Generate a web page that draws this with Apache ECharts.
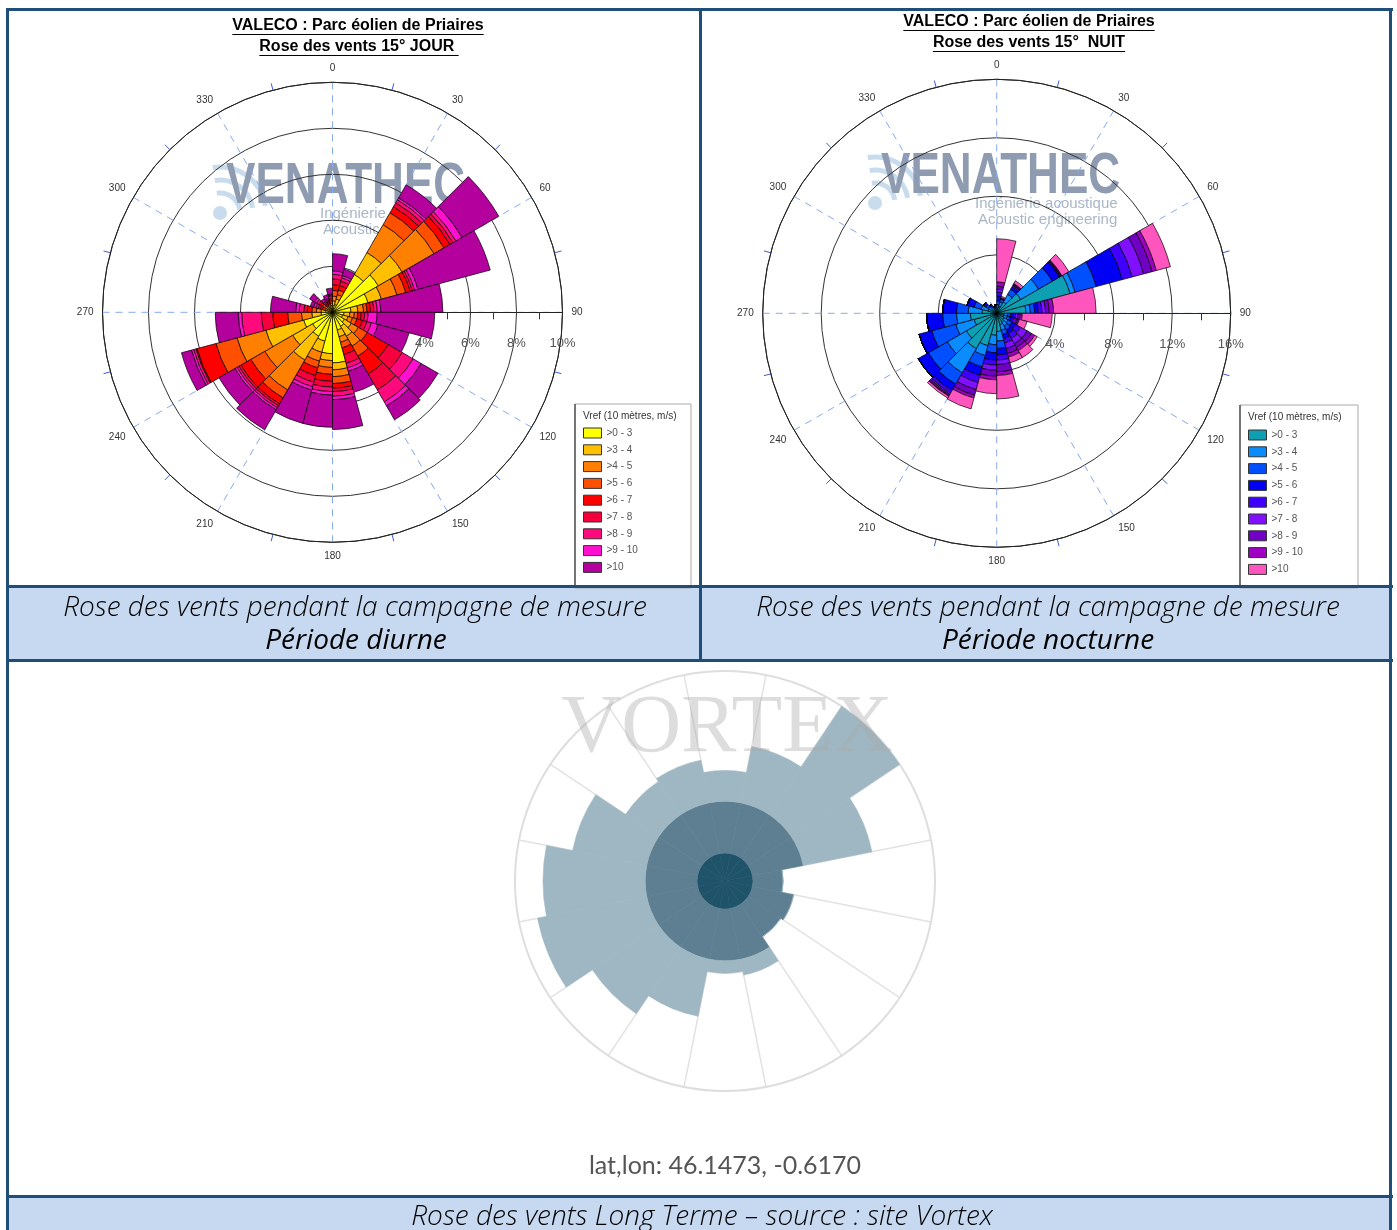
<!DOCTYPE html>
<html>
<head>
<meta charset="utf-8">
<title>Roses des vents - Parc éolien de Priaires</title>
<script src="https://cdn.jsdelivr.net/npm/echarts@6/dist/echarts.min.js"></script>
<style>
  html, body { margin: 0; padding: 0; background: #fff; }
  #chart { width: 1397px; height: 1230px; }
</style>
</head>
<body>
<div id="chart"></div>
<script>
// secteurs de 15° : le secteur k couvre [15k ; 15k+15[
const sectors15 = ['0', '15', '30', '45', '60', '75', '90', '105', '120', '135', '150', '165',
  '180', '195', '210', '225', '240', '255', '270', '285', '300', '315', '330', '345']
const angleTicks = ['0', '30', '60', '90', '120', '150', '180', '210', '240', '270', '300', '330']
const classLabels = ['>0 - 3', '>3 - 4', '>4 - 5', '>5 - 6', '>6 - 7', '>7 - 8', '>8 - 9', '>9 - 10', '>10']

// JOUR : fréquence (%) par classe de vitesse et par secteur
const jour0_3  = [0.3, 0.35, 1.9, 2.3, 1.6, 0.8, 0.5, 0.45, 0.6, 0.7, 0.8, 2.2, 1.8, 1.3, 1.2, 1.0, 1.3, 0.5, 0.3, 0.15, 0.2, 0.1, 0.15, 0.15]
const jour3_4  = [0.2, 0.25, 1.1, 1.2, 0.6, 0.3, 0.25, 0.25, 0.35, 0.5, 0.3, 0.3, 0.3, 0.5, 1.2, 1.0, 1.7, 0.4, 0.2, 0.1, 0.1, 0.1, 0.1, 0.15]
const jour4_5  = [0.2, 0.2, 1.4, 1.6, 0.7, 0.25, 0.2, 0.2, 0.35, 0.5, 0.25, 0.3, 0.3, 0.4, 1.5, 1.4, 1.3, 0.45, 0.2, 0.1, 0.1, 0.1, 0.1, 0.1]
const jour5_6  = [0.25, 0.2, 0.6, 0.5, 0.4, 0.15, 0.15, 0.2, 0.45, 0.5, 0.25, 0.3, 0.3, 0.3, 0.4, 0.7, 0.95, 0.6, 0.2, 0.1, 0.1, 0.05, 0.05, 0.1]
const jour6_7  = [0.25, 0.2, 0.3, 0.3, 0.2, 0.15, 0.15, 0.25, 1.05, 0.9, 0.3, 0.2, 0.3, 0.35, 0.3, 0.5, 0.85, 0.65, 0.2, 0.1, 0.1, 0.05, 0.05, 0.1]
const jour7_8  = [0.25, 0.2, 0.2, 0.15, 0.1, 0.15, 0.15, 0.2, 0.7, 0.8, 0.4, 0.15, 0.25, 0.3, 0.1, 0.1, 0.05, 0.5, 0.15, 0.1, 0.1, 0.05, 0.05, 0.1]
const jour8_9  = [0.2, 0.15, 0.15, 0.15, 0.1, 0.15, 0.15, 0.2, 0.55, 0.6, 0.2, 0.2, 0.2, 0.2, 0.1, 0.1, 0.1, 0.85, 0.2, 0.1, 0.1, 0.05, 0.05, 0.05]
const jour9_10 = [0.15, 0.1, 0.1, 0.3, 0.15, 0.15, 0.4, 0.3, 0.4, 0.2, 0.15, 0.15, 0.15, 0.15, 0.1, 0.1, 0.1, 0.15, 0.15, 0.1, 0.1, 0.05, 0.05, 0.05]
const jour10   = [0.75, 0.3, 0.65, 1.85, 3.25, 2.7, 2.5, 1.4, 0.85, 0.7, 0.95, 1.3, 1.4, 1.5, 1.0, 0.8, 0.45, 1.0, 1.1, 0.15, 0.25, 0.15, 0.2, 0.25]

// NUIT
const nuit0_3  = [0.35, 0.5, 0.9, 1.9, 5.2, 2.0, 0.5, 0.5, 0.6, 0.7, 0.8, 1.25, 1.5, 2.3, 2.8, 2.4, 1.6, 1.8, 1.0, 0.6, 0.4, 0.3, 0.2, 0.25]
const nuit3_4  = [0.25, 0.3, 0.6, 1.4, 0.35, 0.3, 0.25, 0.25, 0.3, 0.3, 0.4, 0.65, 0.65, 0.7, 1.9, 1.5, 1.3, 0.95, 0.95, 0.5, 0.25, 0.2, 0.15, 0.15]
const nuit4_5  = [0.25, 0.2, 0.4, 1.1, 1.5, 0.3, 0.2, 0.2, 0.3, 0.3, 0.3, 0.5, 0.55, 0.8, 0.9, 1.5, 1.7, 0.95, 0.8, 0.5, 0.2, 0.1, 0.1, 0.1]
const nuit5_6  = [0.35, 0.1, 0.2, 0.55, 1.85, 0.25, 0.2, 0.15, 0.3, 0.3, 0.3, 0.45, 0.5, 0.6, 0.5, 0.8, 0.9, 1.1, 0.95, 0.5, 0.2, 0.1, 0.05, 0.1]
const nuit6_7  = [0.25, 0, 0.1, 0.05, 0.7, 0.25, 0.15, 0.15, 0.4, 0.4, 0.3, 0.35, 0.35, 0.5, 0.2, 0, 0, 0, 0, 0, 0, 0, 0, 0]
const nuit7_8  = [0.2, 0, 0.05, 0.05, 0.8, 0.25, 0.15, 0.15, 0.5, 0.4, 0.4, 0.3, 0.35, 0.5, 0.1, 0, 0, 0, 0, 0, 0, 0, 0, 0]
const nuit8_9  = [0.2, 0, 0.05, 0.05, 0.6, 0.25, 0.15, 0.1, 0.35, 0.3, 0.35, 0.5, 0.4, 0.4, 0.1, 0, 0, 0, 0, 0, 0, 0, 0, 0]
const nuit9_10 = [0.3, 0, 0.05, 0.05, 0.3, 0.3, 0.15, 0.1, 0.25, 0.25, 0.25, 0.25, 0.25, 0.2, 0.05, 0, 0, 0, 0, 0, 0, 0, 0, 0]
const nuit10   = [2.95, 0.1, 0.21, 0.55, 1.0, 2.9, 2.05, 0.55, 0.2, 0.55, 0.4, 1.61, 0.95, 0.77, 0.15, 0, 0, 0, 0, 0, 0, 0, 0, 0]

// Vortex long terme : 16 secteurs centrés sur N, 3 classes empilées
const vortexSectors = ['N', 'NNE', 'NE', 'ENE', 'E', 'ESE', 'SE', 'SSE', 'S', 'SSW', 'SW', 'WSW', 'W', 'WNW', 'NW', 'NNW']
const vortexLow  = [2, 2, 2, 2, 2, 2, 2, 2, 2, 2, 2, 2, 2, 2, 2, 2]
const vortexMid  = [3.7, 3.7, 3.7, 3.7, 2.15, 3.0, 2.8, 3.7, 3.7, 3.7, 3.7, 3.7, 3.7, 3.7, 3.7, 3.7]
const vortexHigh = [2.2, 4.1, 9.3, 5.0, 0, 0, 0, 1.15, 0.9, 4.15, 5.7, 7.95, 7.3, 5.4, 2.85, 3.1]

const dayColors   = ['#ffff00', '#ffc000', '#ff8000', '#ff5000', '#ff0000', '#f5003c', '#ff0a7d', '#ff10d0', '#b4009c']
const nightColors = ['#0ea0b2', '#0a8cff', '#0050ff', '#0000f5', '#4000ff', '#8010ff', '#7000c4', '#a000c4', '#ff55bf']
const vortexColors = ['#1f5369', '#5d7f91', '#9fb7c2']

const FONT = '"Liberation Sans", Arial, sans-serif'
const CAPTION = '"Open Sans", Lato, sans-serif'
const FRAME = '#1f4e79'

const chart = echarts.init(document.getElementById('chart'))

function textWidth(txt, font) {
  const ctx = document.createElement('canvas').getContext('2d')
  ctx.font = font
  return ctx.measureText(txt).width
}

function dataAngle(polarIndex) {
  return { polarIndex, type: 'category', data: sectors15, startAngle: 90, clockwise: true, show: false }
}
function decoAngle(polarIndex) {
  return {
    polarIndex, type: 'value', min: 90, max: 450, interval: 30, startAngle: 0, clockwise: true,
    axisLine: { lineStyle: { color: '#222', width: 1 } },
    axisTick: { show: false },
    minorTick: { show: true, splitNumber: 2, length: 7, lineStyle: { color: '#3a5ad8', width: 1 } },
    axisLabel: {
      margin: 9, fontSize: 10, color: '#333', fontFamily: FONT,
      formatter: v => (v === 450 ? '' : angleTicks[(v % 360) / 30])
    },
    splitLine: { show: true, lineStyle: { color: '#86a9f2', width: 1, type: [7, 6] } }
  }
}
function decoRadius(polarIndex, max, step) {
  return {
    polarIndex, type: 'value', min: 0, max, interval: step,
    axisLine: { show: true, lineStyle: { color: '#222', width: 1 } },
    axisTick: { show: false },
    minorTick: { show: true, splitNumber: 2, length: -7, lineStyle: { color: '#333', width: 1 } },
    axisLabel: {
      margin: -31, fontSize: 13, color: '#555', fontFamily: FONT, align: 'center', verticalAlign: 'middle',
      formatter: v => (v ? v + '%' : '')
    },
    splitLine: { show: true, lineStyle: { color: '#333', width: 1 } }
  }
}

function roseSeries(prefix, polarIndex, rows, colors) {
  return rows.map((vals, i) => ({
    name: prefix + i, type: 'bar', coordinateSystem: 'polar', polarIndex, stack: prefix,
    barCategoryGap: '0%', data: vals, silent: true,
    itemStyle: { color: colors[i], borderColor: '#000', borderWidth: 0.7 }
  }))
}

function rosLegend(prefix, left, top) {
  return {
    data: classLabels.map((_, i) => prefix + i),
    formatter: name => classLabels[+name.slice(prefix.length)],
    left, top, padding: 0, orient: 'vertical', icon: 'rect', selectedMode: false,
    itemWidth: 18, itemHeight: 10, itemGap: 4.8,
    itemStyle: { borderColor: '#333', borderWidth: 1 },
    textStyle: { fontSize: 10, color: '#555', fontFamily: FONT, lineHeight: 12 }
  }
}

// titres soulignés
function underlined(txt, cx, cy) {
  const font = 'bold 16px ' + FONT
  const w = textWidth(txt, font)
  return [
    { type: 'text', x: cx, y: cy, style: { text: txt, font, fill: '#000', align: 'center', verticalAlign: 'middle' } },
    { type: 'line', shape: { x1: cx - w / 2, y1: cy + 8.5, x2: cx + w / 2, y2: cy + 8.5 }, style: { stroke: '#000', lineWidth: 1.2 } }
  ]
}

function venathec(x, y) {
  const blue = '#c9dcee'
  return [
    { type: 'circle', z: -10, shape: { cx: x - 6, cy: y + 26, r: 7 }, style: { fill: blue } },
    { type: 'arc', z: -10, shape: { cx: x - 6, cy: y + 26, r: 20, startAngle: -Math.PI * 0.55, endAngle: -Math.PI * 0.05 }, style: { stroke: blue, lineWidth: 5, fill: null } },
    { type: 'arc', z: -10, shape: { cx: x - 6, cy: y + 26, r: 33, startAngle: -Math.PI * 0.55, endAngle: -Math.PI * 0.05 }, style: { stroke: blue, lineWidth: 5, fill: null } },
    { type: 'arc', z: -10, shape: { cx: x - 6, cy: y + 26, r: 46, startAngle: -Math.PI * 0.55, endAngle: -Math.PI * 0.05 }, style: { stroke: blue, lineWidth: 5, fill: null } },
    { type: 'text', z: -10, x, y, scaleX: 0.76, style: { text: 'VENATHEC', font: 'bold 58px ' + FONT, fill: '#8e9bb1', align: 'left', verticalAlign: 'middle' } },
    { type: 'text', z: -10, x: x + 94, y: y + 27, style: { text: 'Ingénierie acoustique', font: '15px ' + FONT, fill: '#a9b6c7', align: 'left', verticalAlign: 'middle' } },
    { type: 'text', z: -10, x: x + 97, y: y + 43, style: { text: 'Acoustic engineering', font: '15px ' + FONT, fill: '#a9b6c7', align: 'left', verticalAlign: 'middle' } }
  ]
}

function legendBox(x, y, w, h, title) {
  return [
    { type: 'rect', z: -5, shape: { x, y, width: w, height: h }, style: { fill: '#fff', stroke: '#aaa', lineWidth: 1 } },
    { type: 'line', shape: { x1: x, y1: y, x2: x, y2: y + h }, style: { stroke: '#555', lineWidth: 1.5 } },
    { type: 'text', x: x + 8, y: y + 12, style: { text: title, font: '10px ' + FONT, fill: '#333', align: 'left', verticalAlign: 'middle' } }
  ]
}

function band(x, y, w, h) {
  return { type: 'rect', z: 50, shape: { x, y, width: w, height: h }, style: { fill: FRAME } }
}

const capFont = 'italic 300 28px ' + CAPTION
const capFont2 = 'italic 28px ' + CAPTION

const graphics = [
  // fonds des légendes des tableaux
  { type: 'rect', z: -20, shape: { x: 9, y: 588, width: 1381, height: 71 }, style: { fill: '#c6d9f1' } },
  { type: 'rect', z: -20, shape: { x: 9, y: 1198, width: 1381, height: 40 }, style: { fill: '#c6d9f1' } },
  ...venathec(226, 187),
  ...venathec(881, 177),
  ...underlined('VALECO : Parc éolien de Priaires', 358, 26),
  ...underlined('Rose des vents 15° JOUR ', 359, 47),
  ...underlined('VALECO : Parc éolien de Priaires', 1029, 22),
  ...underlined('Rose des vents 15°  NUIT', 1029, 43),
  ...legendBox(575, 404, 116, 184, 'Vref (10 mètres, m/s)'),
  ...legendBox(1240, 405, 118, 183, 'Vref (10 mètres, m/s)'),
  { type: 'text', x: 355, y: 608, style: { text: 'Rose des vents pendant la campagne de mesure', font: capFont, fill: '#000', align: 'center', verticalAlign: 'middle' } },
  { type: 'text', x: 356, y: 641, style: { text: 'Période diurne', font: capFont2, fill: '#000', align: 'center', verticalAlign: 'middle' } },
  { type: 'text', x: 1048, y: 608, style: { text: 'Rose des vents pendant la campagne de mesure', font: capFont, fill: '#000', align: 'center', verticalAlign: 'middle' } },
  { type: 'text', x: 1048, y: 641, style: { text: 'Période nocturne', font: capFont2, fill: '#000', align: 'center', verticalAlign: 'middle' } },
  { type: 'text', x: 702, y: 1217, style: { text: 'Rose des vents Long Terme – source : site Vortex', font: capFont, fill: '#000', align: 'center', verticalAlign: 'middle' } },
  { type: 'text', x: 725, y: 1166, style: { text: 'lat,lon: 46.1473, -0.6170', font: '25px Lato, sans-serif', fill: '#555', align: 'center', verticalAlign: 'middle' } },
  { type: 'text', z: 40, x: 727, y: 729, style: { text: 'VORTEX', font: '83px "Liberation Serif", "DejaVu Serif", serif', fill: 'rgba(170,170,170,0.4)', align: 'center', verticalAlign: 'middle' } },
  // cadre du tableau
  band(6, 8, 1387, 3),
  band(6, 8, 3, 1230),
  band(1389, 8, 3, 1230),
  band(699, 8, 3, 653),
  band(6, 585, 1387, 3),
  band(6, 659, 1387, 3),
  band(6, 1195, 1387, 3)
]

const option = {
  animation: false,
  backgroundColor: '#fff',
  polar: [
    { center: [332.5, 312.3], radius: 230 },
    { center: [332.5, 312.3], radius: 230 },
    { center: [996.7, 313.3], radius: 234 },
    { center: [996.7, 313.3], radius: 234 },
    { center: [725, 881], radius: 210 }
  ],
  angleAxis: [
    dataAngle(0),
    decoAngle(1),
    dataAngle(2),
    decoAngle(3),
    {
      polarIndex: 4, type: 'category', data: vortexSectors, startAngle: 101.25, clockwise: true,
      axisLine: { lineStyle: { color: '#dedede', width: 2 } },
      axisTick: { show: false }, axisLabel: { show: false },
      splitLine: { show: true, lineStyle: { color: '#e2e2e2', width: 1.5 } }
    }
  ],
  radiusAxis: [
    { polarIndex: 0, type: 'value', min: 0, max: 10, show: false },
    decoRadius(1, 10, 2),
    { polarIndex: 2, type: 'value', min: 0, max: 16, show: false },
    decoRadius(3, 16, 4),
    { polarIndex: 4, type: 'value', min: 0, max: 15, show: false }
  ],
  legend: [rosLegend('jour', 583, 427), rosLegend('nuit', 1248, 429)],
  graphic: graphics,
  series: [
    ...roseSeries('jour', 0, [jour0_3, jour3_4, jour4_5, jour5_6, jour6_7, jour7_8, jour8_9, jour9_10, jour10], dayColors),
    ...roseSeries('nuit', 2, [nuit0_3, nuit3_4, nuit4_5, nuit5_6, nuit6_7, nuit7_8, nuit8_9, nuit9_10, nuit10], nightColors),
    ...[vortexLow, vortexMid, vortexHigh].map((vals, i) => ({
      name: 'vortex' + i, type: 'bar', coordinateSystem: 'polar', polarIndex: 4, stack: 'vortex',
      barCategoryGap: '0%', data: vals, silent: true,
      itemStyle: { color: vortexColors[i], borderColor: vortexColors[i], borderWidth: 0.6 }
    }))
  ]
}

chart.setOption(option)
</script>
</body>
</html>
